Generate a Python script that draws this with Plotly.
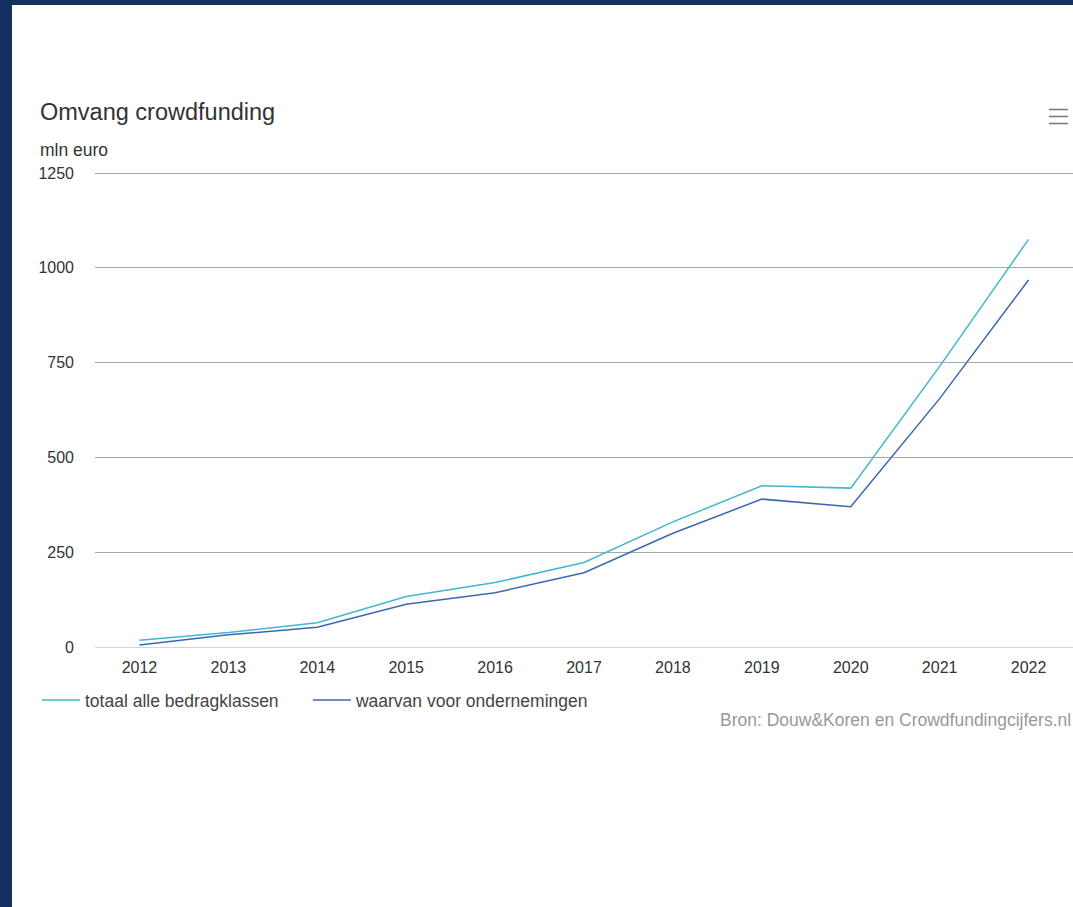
import plotly.graph_objects as go

years = ["2012", "2013", "2014", "2015", "2016", "2017", "2018", "2019", "2020", "2021", "2022"]
totaal = [18, 38, 64, 133, 170, 223, 330, 425, 419, 740, 1075]
ondernemingen = [5, 32, 52, 113, 143, 196, 300, 390, 370, 655, 968]
y_ticks = [0, 250, 500, 750, 1000, 1250]
series_names = ["totaal alle bedragklassen", "waarvan voor ondernemingen"]

W, H = 1073, 907
L, R, T, B = 95, 1073, 170, 647  # plot area in pixels
Y_MAX = 1250 * (B - T) / (647 - 173)  # keep 1250 at pixel 173


def px(x):
    return (x - L) / (R - L)


def py(y):
    return (B - y) / (B - T)


NAVY = "#13305f"
TEAL = "#43b7cf"
BLUE = "#3a68b0"
FONT = "Liberation Sans, Arial, sans-serif"

fig = go.Figure()
fig.add_trace(go.Scatter(x=years, y=totaal, mode="lines", name=series_names[0] + "\u00a0" * 5,
                         line=dict(color=TEAL, width=1.5)))
fig.add_trace(go.Scatter(x=years, y=ondernemingen, mode="lines", name=series_names[1],
                         line=dict(color=BLUE, width=1.5)))

shapes = [
    # white panel
    dict(type="rect", xref="paper", yref="paper", x0=px(12), x1=px(1080), y0=py(915), y1=py(5),
         fillcolor="white", line=dict(width=0), layer="below"),
]
# hamburger icon
for yy in (109.5, 116.5, 123.5):
    shapes.append(dict(type="line", xref="paper", yref="paper", x0=px(1049), x1=px(1068),
                       y0=py(yy), y1=py(yy), line=dict(color="#777777", width=1.5)))

fig.update_layout(
    width=W, height=H,
    margin=dict(l=L, r=W - R, t=T, b=H - B, pad=0),
    paper_bgcolor=NAVY,
    plot_bgcolor="rgba(0,0,0,0)",
    font=dict(family=FONT, color="#333333", size=16),
    title=dict(text="Omvang crowdfunding", x=40 / W, xanchor="left", xref="container",
               y=1 - 112 / H, yanchor="middle", yref="container",
               font=dict(size=23.5, color="#333333", family=FONT)),
    xaxis=dict(type="category", range=[-0.5, 10.5], showgrid=False, showline=True,
               linecolor="#ccd6eb", linewidth=1, ticks="", ticklabelstandoff=6,
               tickfont=dict(size=16, color="#333333"), fixedrange=True),
    yaxis=dict(range=[0, Y_MAX], tickvals=y_ticks, showgrid=True, gridcolor="#a8a8a8",
               gridwidth=1, zeroline=False, ticks="", ticklabelstandoff=20,
               tickfont=dict(size=16, color="#333333"), fixedrange=True),
    legend=dict(orientation="h", x=px(37), xanchor="left", y=py(700), yanchor="middle",
                font=dict(size=17.5, color="#444444", family=FONT), bgcolor="rgba(0,0,0,0)",
                itemwidth=38, borderwidth=0),
    showlegend=True,
    shapes=shapes,
    annotations=[
        dict(text="mln euro", xref="paper", yref="paper", x=px(38), y=py(150), xanchor="left",
             yanchor="middle", showarrow=False, font=dict(size=17.5, color="#333333", family=FONT)),
        dict(text="Bron: Douw&Koren en Crowdfundingcijfers.nl", xref="paper", yref="paper",
             x=px(1073), y=py(720), xanchor="right", yanchor="middle", showarrow=False,
             font=dict(size=17.5, color="#999999", family=FONT)),
    ],
)

fig.write_html("out.html", config={"displayModeBar": False},
               post_script="document.body.style.margin='0';document.body.style.background='%s';" % NAVY)
